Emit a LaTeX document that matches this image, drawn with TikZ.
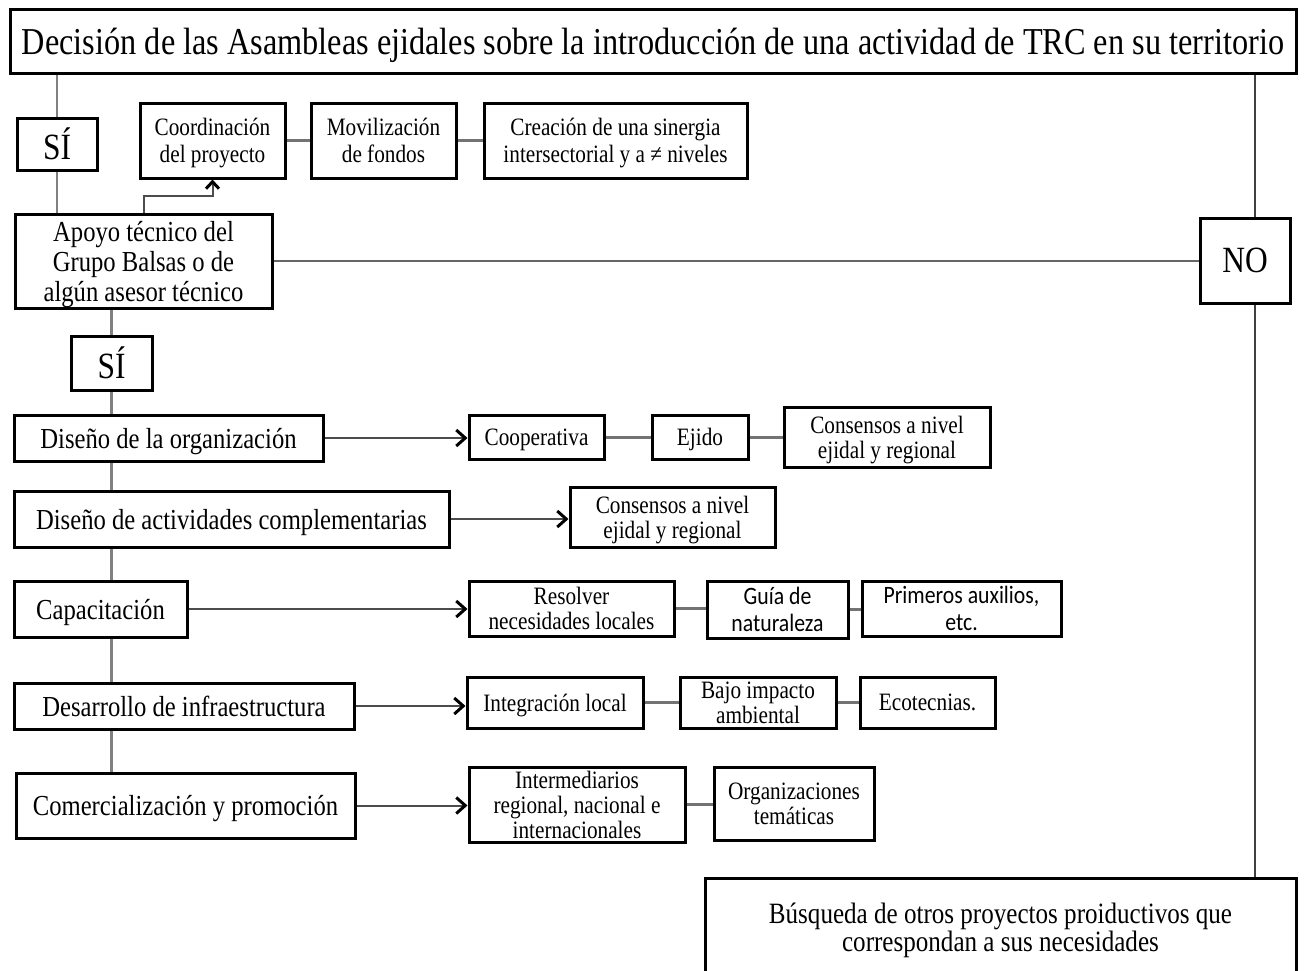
\documentclass[tikz,border=0pt]{standalone}
\usepackage{fontspec}
\setmainfont{Liberation Serif}[FakeStretch=0.85]
\newfontfamily\sansf{Carlito}[FakeStretch=0.87]
\usetikzlibrary{arrows.meta}
\begin{document}
\begin{tikzpicture}[x=1pt,y=-1pt,
  bx/.style={draw=black,line width=3pt,inner sep=0pt,align=center,anchor=center,text depth=0pt},
  bigtxt/.style={bx,font=\fontsize{29}{30}\selectfont},
  smtxt/.style={bx,font=\fontsize{25}{25}\selectfont},
  yesno/.style={bx,font=\fontsize{37}{37}\selectfont},
  trunk/.style={draw=black!50,line width=2.5pt},
  link/.style={draw=black!55,line width=3pt},
  thin/.style={draw=black!60,line width=2pt},
  rline/.style={draw=black!75,line width=1.6pt},
  arr/.style={draw=black!70,line width=2pt,-{Straight Barb[length=9pt,width=16pt,line width=3pt,color=black]}}]
\clip (0,0) rectangle (1306,970);
\fill[white] (0,0) rectangle (1306,970);
% title
\node[bx,font=\fontsize{38}{38}\selectfont,minimum width=1286,minimum height=64] (title) at (653,41)
  {Decisión de las Asambleas ejidales sobre la introducción de una actividad de TRC en su territorio};
% top left
\node[yesno,minimum width=80,minimum height=52] (si1) at (57,144) {SÍ};
\node[smtxt,font=\fontsize{25}{27}\selectfont,minimum width=145,minimum height=75] (coord) at (212.5,140.5) {Coordinación\\del proyecto};
\node[smtxt,font=\fontsize{25}{27}\selectfont,minimum width=145,minimum height=75] (movil) at (383.5,140.5) {Movilización\\de fondos};
\node[smtxt,font=\fontsize{25}{27}\selectfont,minimum width=263,minimum height=75] (crea) at (615.5,140.5) {Creación de una sinergia\\intersectorial y a ≠ niveles};
\node[bigtxt,minimum width=257,minimum height=94] (apoyo) at (143.5,261) {Apoyo técnico del\\Grupo Balsas o de\\algún asesor técnico};
\node[yesno,minimum width=90,minimum height=85] (no) at (1245,260.5) {NO};
\node[yesno,minimum width=81,minimum height=54] (si2) at (111.5,363) {SÍ};
% left column
\node[bigtxt,minimum width=309,minimum height=46] (dorg) at (168.5,438) {Diseño de la organización};
\node[bigtxt,minimum width=435,minimum height=56] (dact) at (231.5,519) {Diseño de actividades complementarias};
\node[bigtxt,minimum width=173,minimum height=56] (cap) at (100.5,609) {Capacitación};
\node[bigtxt,minimum width=340,minimum height=46] (desa) at (184,706) {Desarrollo de infraestructura};
\node[bigtxt,minimum width=339,minimum height=65] (com) at (185.5,805.5) {Comercialización y promoción};
% right side
\node[smtxt,minimum width=135,minimum height=44] (coop) at (536.5,437) {Cooperativa};
\node[smtxt,minimum width=96,minimum height=44] (ejido) at (700,437) {Ejido};
\node[smtxt,minimum width=206,minimum height=60] (cons1) at (887,437) {Consensos a nivel\\ejidal y regional};
\node[smtxt,minimum width=205,minimum height=60] (cons2) at (672.5,517) {Consensos a nivel\\ejidal y regional};
\node[smtxt,minimum width=205,minimum height=55] (resol) at (571.5,608.5) {Resolver\\necesidades locales};
\node[smtxt,font=\sansf\fontsize{25}{27}\selectfont,minimum width=141,minimum height=57] (guia) at (777.5,609.5) {Guía de\\naturaleza};
\node[smtxt,font=\sansf\fontsize{25}{27}\selectfont,minimum width=199,minimum height=55] (prim) at (961.5,608.5) {Primeros auxilios,\\etc.};
\node[smtxt,minimum width=176,minimum height=51] (integ) at (555,702.5) {Integración local};
\node[smtxt,minimum width=156,minimum height=51] (bajo) at (758,702.5) {Bajo impacto\\ambiental};
\node[smtxt,minimum width=135,minimum height=51] (eco) at (927.5,702.5) {Ecotecnias.};
\node[smtxt,minimum width=216,minimum height=75] (inter) at (577,804.5) {Intermediarios\\regional, nacional e\\internacionales};
\node[smtxt,minimum width=160,minimum height=73] (org) at (794,803.5) {Organizaciones\\temáticas};
\node[bx,font=\fontsize{29.5}{28}\selectfont,minimum width=591,minimum height=98] (busq) at (1000.5,927) {Búsqueda de otros proyectos proiductivos que\\correspondan a sus necesidades};
\coordinate (rv) at (1255,0);
% connectors
\draw[trunk] (title.south -| si1) -- (si1.north);
\draw[trunk] (si1.south) -- (si1.south |- apoyo.north);
\draw[arr,-{Straight Barb[length=7pt,width=13pt,line width=3pt,color=black]}] (apoyo.north) -- ++(0,-17) -| (coord.south);
\draw[link] (coord.east) -- (movil.west);
\draw[link] (movil.east) -- (crea.west);
\draw[thin] (apoyo.east) -- (no.west |- apoyo.east);
\draw[rline] (title.south -| rv) -- (no.north -| rv);
\draw[rline] (no.south -| rv) -- (busq.north -| rv);
\draw[trunk] (si2.north |- apoyo.south) -- (si2.north);
\draw[trunk] (si2.south) -- (si2.south |- dorg.north);
\draw[trunk] (dorg.south -| si2) -- (dact.north -| si2);
\draw[trunk] (dact.south -| si2) -- (cap.north -| si2);
\draw[trunk] (cap.south -| si2) -- (desa.north -| si2);
\draw[trunk] (desa.south -| si2) -- (com.north -| si2);
\draw[arr] (dorg.east) -- (coop.west |- dorg.east);
\draw[arr] (dact.east) -- (cons2.west |- dact.east);
\draw[arr] (cap.east) -- (resol.west |- cap.east);
\draw[arr] (desa.east) -- (integ.west |- desa.east);
\draw[arr] (com.east) -- (inter.west |- com.east);
\draw[link] (coop.east) -- (ejido.west |- coop.east);
\draw[link] (ejido.east) -- (cons1.west |- ejido.east);
\draw[link] (resol.east) -- (guia.west |- resol.east);
\draw[link] (guia.east) -- (prim.west |- guia.east);
\draw[link] (integ.east) -- (bajo.west |- integ.east);
\draw[link] (bajo.east) -- (eco.west |- bajo.east);
\draw[link] (inter.east) -- (org.west |- inter.east);
\end{tikzpicture}
\end{document}
